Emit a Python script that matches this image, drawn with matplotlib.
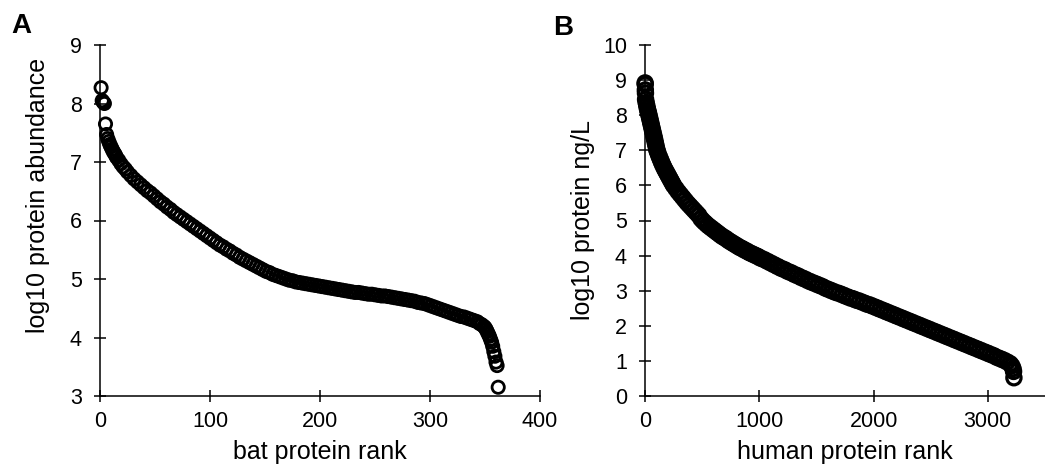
import numpy as np
import matplotlib as mpl
import matplotlib.pyplot as plt

# bat data (rank, log10 abundance)
bat_rank = [1, 2, 3, 4, 5, 6, 7, 8, 9, 10, 11, 12, 13, 14, 15, 17, 19, 21, 23, 25,
            28, 31, 34, 37, 40, 43, 46, 49, 52, 55, 58, 61, 64, 67, 70, 73, 76, 79,
            82, 85, 88, 91, 94, 97, 100, 103, 106, 109, 112, 115, 118, 121, 124, 127,
            130, 133, 136, 139, 142, 145, 148, 151, 154, 157, 160, 163, 166, 169, 172,
            175, 178, 181, 184, 187, 190, 193, 196, 199, 202, 205, 208, 211, 214, 217,
            220, 223, 226, 229, 232, 235, 238, 241, 244, 247, 250, 253, 256, 259, 262,
            265, 268, 271, 274, 277, 280, 283, 286, 289, 292, 295, 298, 301, 304, 307,
            310, 313, 316, 319, 322, 325, 328, 331, 334, 337, 340, 343, 345, 347, 349,
            350, 351, 352, 353, 354, 355, 356, 357, 358, 359, 360, 361, 362]
bat_val = [8.27, 8.05, 8.02, 8.00, 7.65, 7.47, 7.40, 7.35, 7.30, 7.26, 7.22, 7.18, 7.15,
           7.12, 7.08, 7.03, 6.97, 6.92, 6.88, 6.83, 6.77, 6.71, 6.66, 6.61, 6.56, 6.51,
           6.47, 6.42, 6.37, 6.32, 6.28, 6.23, 6.19, 6.14, 6.10, 6.06, 6.02, 5.98, 5.94,
           5.90, 5.86, 5.82, 5.78, 5.74, 5.70, 5.66, 5.62, 5.58, 5.55, 5.51, 5.48, 5.44,
           5.41, 5.37, 5.34, 5.31, 5.28, 5.25, 5.22, 5.19, 5.16, 5.13, 5.11, 5.08, 5.06,
           5.04, 5.02, 5.00, 4.98, 4.97, 4.95, 4.94, 4.93, 4.92, 4.91, 4.90, 4.89, 4.88,
           4.87, 4.86, 4.85, 4.84, 4.83, 4.82, 4.81, 4.80, 4.79, 4.78, 4.77, 4.77, 4.76,
           4.75, 4.74, 4.74, 4.73, 4.72, 4.71, 4.71, 4.70, 4.69, 4.68, 4.67, 4.66, 4.65,
           4.64, 4.63, 4.62, 4.60, 4.59, 4.58, 4.56, 4.54, 4.52, 4.50, 4.48, 4.46, 4.44,
           4.42, 4.40, 4.38, 4.36, 4.35, 4.33, 4.31, 4.29, 4.27, 4.24, 4.22, 4.19, 4.17,
           4.14, 4.10, 4.06, 4.02, 3.97, 3.92, 3.85, 3.76, 3.68, 3.58, 3.52, 3.15]

# human data (rank, log10 ng/L)
human_rank = [1, 2, 3, 4, 5, 10, 15, 20, 25, 30, 35, 40, 45, 50, 55, 60, 65, 70, 75, 80,
              85, 90, 95, 100, 105, 110, 120, 130, 140, 150, 160, 170, 180, 190, 200,
              210, 220, 230, 240, 250, 270, 290, 310, 330, 350, 370, 390, 410, 430, 450,
              470, 490, 510, 530, 550, 570, 590, 610, 630, 650, 670, 690, 710, 730, 750,
              770, 790, 810, 830, 850, 870, 890, 910, 930, 950, 970, 990, 1010, 1040,
              1070, 1100, 1130, 1160, 1190, 1220, 1250, 1280, 1310, 1340, 1370, 1400,
              1430, 1460, 1490, 1520, 1550, 1580, 1610, 1640, 1670, 1700, 1730, 1760,
              1790, 1820, 1850, 1880, 1910, 1940, 1970, 2000, 2030, 2060, 2090, 2120,
              2150, 2180, 2210, 2240, 2270, 2300, 2330, 2360, 2390, 2420, 2450, 2480,
              2510, 2540, 2570, 2600, 2630, 2660, 2690, 2720, 2750, 2780, 2810, 2840,
              2870, 2900, 2930, 2960, 2990, 3020, 3050, 3080, 3110, 3140, 3170, 3195,
              3210, 3220, 3225, 3228]
human_val = [8.92, 8.88, 8.72, 8.63, 8.45, 8.36, 8.28, 8.20, 8.13, 8.07, 8.00, 7.93,
             7.86, 7.79, 7.72, 7.65, 7.58, 7.51, 7.44, 7.37, 7.30, 7.22, 7.15, 7.07, 7.00,
             6.95, 6.86, 6.78, 6.70, 6.62, 6.55, 6.48, 6.42, 6.36, 6.30, 6.24, 6.18, 6.12,
             6.06, 6.00, 5.91, 5.82, 5.74, 5.66, 5.58, 5.50, 5.43, 5.36, 5.29, 5.22, 5.15,
             5.05, 4.98, 4.92, 4.86, 4.81, 4.76, 4.71, 4.66, 4.61, 4.56, 4.52, 4.48, 4.43,
             4.39, 4.35, 4.31, 4.27, 4.23, 4.20, 4.16, 4.13, 4.09, 4.06, 4.03, 4.00, 3.97,
             3.93, 3.89, 3.84, 3.79, 3.74, 3.69, 3.64, 3.60, 3.55, 3.51, 3.46, 3.42, 3.37,
             3.33, 3.28, 3.24, 3.20, 3.16, 3.12, 3.07, 3.03, 2.99, 2.95, 2.92, 2.88, 2.84,
             2.80, 2.77, 2.73, 2.70, 2.66, 2.62, 2.59, 2.55, 2.51, 2.47, 2.43, 2.39, 2.35,
             2.31, 2.27, 2.23, 2.19, 2.15, 2.11, 2.07, 2.03, 1.99, 1.95, 1.91, 1.87, 1.83,
             1.79, 1.75, 1.71, 1.67, 1.63, 1.59, 1.55, 1.51, 1.47, 1.43, 1.39, 1.35, 1.31,
             1.27, 1.23, 1.19, 1.15, 1.10, 1.06, 1.02, 0.97, 0.92, 0.86, 0.78, 0.70, 0.52]

font = {
    'family': ['Liberation Sans', 'DejaVu Sans'],
    'size': 15.5
}
mpl.rc('font', **font)


def style_axes(ax):
    ax.spines['top'].set_visible(False)
    ax.spines['right'].set_visible(False)
    ax.spines['left'].set_linewidth(1.1)
    ax.spines['bottom'].set_linewidth(1.1)
    ax.tick_params(direction='inout', length=9, width=1.1)
    ax.tick_params(axis='x', pad=6)
    ax.tick_params(axis='y', pad=8.5)


fig = plt.figure(figsize=(10.45, 4.68), dpi=100)

ax1 = fig.add_axes([100 / 1045, 72 / 468, 440 / 1045, 351 / 468])
ax1.scatter(bat_rank, bat_val, s=78, facecolors='none', edgecolors='black',
            linewidths=2.0, clip_on=False, zorder=3)
ax1.set_xlim(0, 400)
ax1.set_ylim(3, 9)
ax1.set_xticks([0, 100, 200, 300, 400])
ax1.set_yticks([3, 4, 5, 6, 7, 8, 9])
ax1.set_xlabel('bat protein rank', fontsize=18)
ax1.set_ylabel('log10 protein abundance', fontsize=18)
ax1.xaxis.set_label_coords(0.5, -0.125)
ax1.yaxis.set_label_coords(-0.114, 0.57)
style_axes(ax1)

ax2 = fig.add_axes([645 / 1045, 72 / 468, 400 / 1045, 351 / 468])
ax2.scatter(human_rank, human_val, s=105, facecolors='none', edgecolors='black',
            linewidths=2.3, clip_on=False, zorder=3)
ax2.set_xlim(0, 3500)
ax2.set_ylim(0, 10)
ax2.set_xticks([0, 1000, 2000, 3000])
ax2.set_yticks(range(0, 11))
ax2.set_xlabel('human protein rank', fontsize=18)
ax2.set_ylabel('log10 protein ng/L', fontsize=18)
ax2.xaxis.set_label_coords(0.5, -0.125)
ax2.yaxis.set_label_coords(-0.125, 0.5)
style_axes(ax2)

fig.text(11 / 1045, 1 - 33 / 468, 'A', fontsize=20, fontweight='bold', va='baseline')
fig.text(553 / 1045, 1 - 35 / 468, 'B', fontsize=20, fontweight='bold', va='baseline')

plt.savefig('out.png', dpi=100)
plt.close()
